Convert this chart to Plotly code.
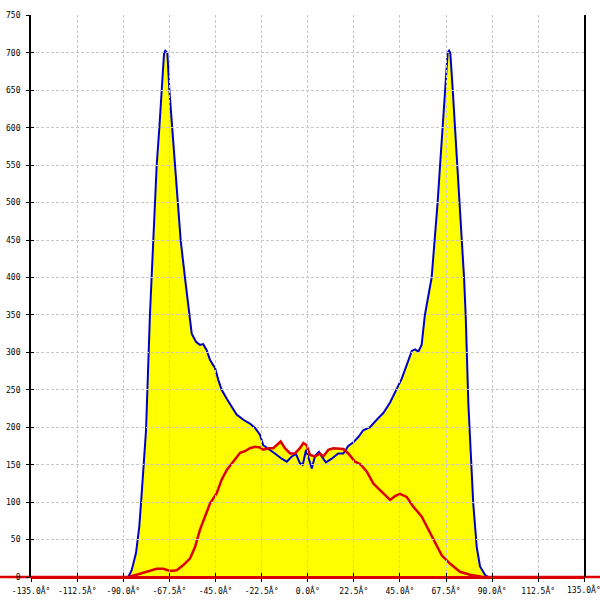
import plotly.graph_objects as go

# angle (deg) / count pairs
blue_deg = [-87.6, -85.9, -83.8, -82.2, -81.0, -80.2, -78.9, -77.0, -76.1, -75.4,
            -74.5, -73.7, -72.4, -71.3, -70.1, -69.5, -68.5, -67.5, -66.1, -64.8,
            -63.2, -62.0, -59.9, -57.9, -56.6, -54.5, -52.6, -51.0, -49.3, -47.7,
            -45.2, -43.6, -42.0, -39.5, -37.1, -34.7, -31.4, -28.2, -25.7, -23.3,
            -21.7, -18.4, -16.0, -12.7, -10.2, -7.8, -5.7, -3.8, -2.4, -0.8,
            2.0, 3.6, 5.5, 6.8, 8.9, 11.7, 14.9, 17.4, 19.8, 22.3,
            24.7, 27.1, 30.4, 33.7, 36.9, 40.2, 43.4, 45.9, 48.3, 50.8,
            52.4, 54.0, 55.6, 57.2, 60.5, 62.1, 63.4, 64.6, 65.9, 67.0,
            68.3, 69.0, 69.6, 70.8, 71.9, 73.2, 74.3, 75.2, 76.3, 77.1,
            77.6, 78.4, 79.6, 80.8, 82.5, 84.1, 86.5, 88.1]
blue_val = [0, 9, 32, 67, 112, 147, 196, 350, 400, 450,
            500, 550, 600, 650, 700, 703, 700, 650, 600, 550,
            500, 450, 400, 350, 325, 314, 310, 311, 303, 290,
            279, 263, 250, 238, 227, 217, 210, 205, 199, 190,
            176, 170, 165, 158, 154, 161, 164, 152, 150, 170,
            145, 162, 167, 161, 153, 158, 165, 165, 175, 180,
            187, 196, 200, 210, 219, 233, 250, 265, 283, 302,
            304, 301, 310, 350, 400, 450, 500, 550, 600, 650,
            700, 703, 700, 650, 600, 550, 500, 450, 400, 350,
            299, 232, 165, 98, 40, 14, 3, 0]

red_deg = [-152, -87.6, -83.5, -80.2, -77.0, -73.7, -70.5, -67.2, -63.9, -60.7,
           -57.4, -55.0, -52.6, -50.1, -47.7, -44.4, -42.0, -39.5, -36.3, -33.0,
           -30.6, -28.2, -25.7, -23.3, -21.7, -19.2, -16.8, -15.1, -13.2, -11.1,
           -8.6, -6.2, -3.8, -2.1, -0.5, 1.1, 3.6, 6.0, 7.6, 10.1,
           12.5, 17.4, 19.8, 23.1, 25.5, 28.8, 32.0, 35.3, 37.7, 40.2,
           42.6, 45.0, 48.3, 51.5, 55.6, 58.9, 62.1, 65.4, 69.4, 74.3,
           79.2, 85.7, 145]
red_val = [0, 0, 3, 6, 9, 11, 11, 8, 9, 16,
           25, 40, 63, 81, 98, 112, 130, 143, 154, 166,
           168, 172, 174, 173, 170, 172, 172, 176, 181, 172,
           165, 165, 172, 179, 176, 163, 161, 165, 161, 170,
           172, 171, 165, 154, 151, 141, 125, 116, 110, 103,
           108, 111, 107, 94, 81, 63, 45, 29, 18, 7,
           3, 0, 0]

x_ticks = [-135, -112.5, -90, -67.5, -45, -22.5, 0, 22.5, 45, 67.5, 90, 112.5, 135]
x_labels = ["-135.0Â°", "-112.5Â°", "-90.0Â°", "-67.5Â°", "-45.0Â°", "-22.5Â°", "0.0Â°",
            "22.5Â°", "45.0Â°", "67.5Â°", "90.0Â°", "112.5Â°", "135.0Â°"]
y_ticks = list(range(0, 751, 50))

YELLOW = "#ffff00"
BLUE = "#0000cc"
RED = "#dd0000"
GRID = "#c8c8c8"
mono = dict(family="DejaVu Sans Mono", size=8, color="#000000")

fig = go.Figure()
# fills first, lines on top
fig.add_trace(go.Scatter(x=red_deg, y=red_val, mode="lines", fill="tozeroy",
                         fillcolor=YELLOW, line=dict(width=0), hoverinfo="skip"))
fig.add_trace(go.Scatter(x=blue_deg, y=blue_val, mode="lines", fill="tozeroy",
                         fillcolor=YELLOW, line=dict(color=BLUE, width=2)))
fig.add_trace(go.Scatter(x=red_deg, y=red_val, mode="lines",
                         line=dict(color=RED, width=2.5)))

# extra subplots only carry the grid, ticks and labels (drawn above the fills)
fig.add_trace(go.Scatter(x=[0], y=[0], xaxis="x2", yaxis="y2", mode="markers",
                         marker=dict(opacity=0), hoverinfo="skip"))
fig.add_trace(go.Scatter(x=[0], y=[0], xaxis="x3", yaxis="y3", mode="markers",
                         marker=dict(opacity=0), hoverinfo="skip"))

px_per_deg = 2.049
x0_px = 307.7
px_per_unit = 0.7487
y0_px = 577.0

x2_dom = [(x0_px - 135 * px_per_deg) / 600, (x0_px + 135 * px_per_deg) / 600]
y2_dom = [(600 - y0_px) / 600, (600 - y0_px + 750 * px_per_unit) / 600]

fig.update_layout(
    width=600, height=600,
    margin=dict(l=0, r=0, t=0, b=0, pad=0, autoexpand=False),
    paper_bgcolor="white",
    plot_bgcolor="rgba(0,0,0,0)",
    showlegend=False,
    xaxis=dict(domain=[0, 1], range=[-x0_px / px_per_deg, (600 - x0_px) / px_per_deg],
               visible=False, fixedrange=True, automargin=False),
    yaxis=dict(domain=[0, 1], range=[(y0_px - 600) / px_per_unit, y0_px / px_per_unit],
               visible=False, fixedrange=True, automargin=False),
    xaxis2=dict(domain=x2_dom, range=[-135, 135], anchor="y2", automargin=False,
                tickmode="array", tickvals=x_ticks, ticktext=x_labels[:-1] + [""],
                ticks="outside", ticklen=4, tickcolor="#000", tickwidth=1,
                tickfont=mono, ticklabelstandoff=2, showline=False, zeroline=False,
                showgrid=True, gridcolor=GRID, griddash="3px,2px", gridwidth=1),
    yaxis2=dict(domain=y2_dom, range=[0, 750], anchor="x2", automargin=False,
                tickmode="array", tickvals=y_ticks,
                ticks="outside", ticklen=3, tickcolor="#000", tickwidth=1,
                tickfont=mono, ticklabelstandoff=4,
                showline=True, linecolor="#000", linewidth=2, mirror=True,
                zeroline=True, zerolinecolor=RED, zerolinewidth=2.5,
                showgrid=True, gridcolor=GRID, griddash="3px,2px", gridwidth=1),
    # inside half of the ticks, so they cross the axis like the original
    xaxis3=dict(overlaying="x2", range=[-135, 135], anchor="y3", automargin=False,
                tickmode="array", tickvals=x_ticks, ticks="inside", ticklen=4,
                tickcolor="#000", tickwidth=1, showticklabels=False,
                showgrid=False, zeroline=False, showline=False),
    yaxis3=dict(overlaying="y2", range=[0, 750], anchor="x3", automargin=False,
                tickmode="array", tickvals=y_ticks, ticks="inside", ticklen=3,
                tickcolor="#000", tickwidth=1, showticklabels=False,
                showgrid=False, zeroline=False, showline=False),
    # last label runs off the right edge in the original
    annotations=[dict(x=135, y=0, xref="x2", yref="y2", text=x_labels[-1],
                      showarrow=False, xanchor="left", yanchor="top",
                      xshift=-19, yshift=-5, font=mono)],
)

fig.write_html("out.html", config={"displayModeBar": False},
               post_script="document.body.style.margin='0';")
